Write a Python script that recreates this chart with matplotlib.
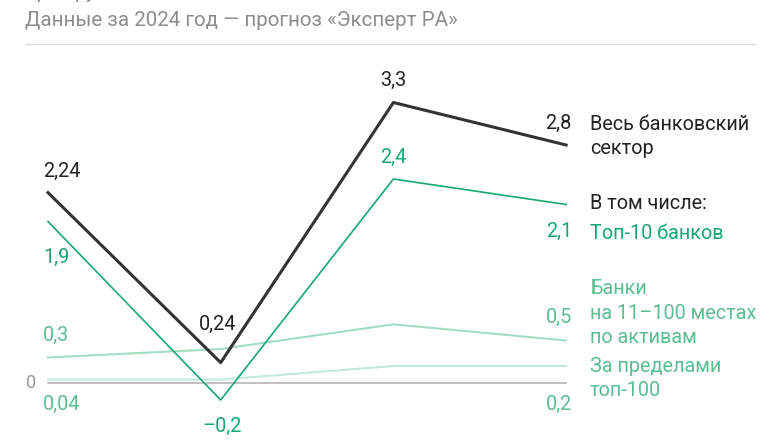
import matplotlib
matplotlib.use('Agg')
import matplotlib.pyplot as plt

plt.rcParams['font.family'] = ['Roboto', 'DejaVu Sans']

# points: 4 periods
periods = [0, 1, 2, 3]
total = [2.24, 0.24, 3.3, 2.8]
top10 = [1.9, -0.2, 2.4, 2.1]
banks_11_100 = [0.3, 0.4, 0.69, 0.5]
outside_100 = [0.04, 0.04, 0.2, 0.2]

total_labels = ['2,24', '0,24', '3,3', '2,8']
top10_labels = ['1,9', '\u20130,2', '2,4', '2,1']

c_black = '#333333'
c_green = '#17a870'
c_light1 = '#a3dec4'
c_light2 = '#c2eadb'
c_light_txt = '#5bbd90'

W, H = 780, 440
fig = plt.figure(figsize=(7.8, 4.4), dpi=100)
ax = fig.add_axes([0, 0, 1, 1])
ax.axis('off')

# pixel mapping: x0=48px, step=172.7px; zero at 383px, 85px per unit
step = 172.7
ppu = 85.0
ax.set_xlim(-48 / step, (W - 48) / step)
ax.set_ylim(-(H - 383) / ppu, 383 / ppu)

def px(x):
    return (x - 48) / step

def py(y):
    return (383 - y) / ppu

# header
fig.text(25 / W, 1 - 2 / H, 'Трлн руб.', fontsize=14, color='#888888', va='bottom')
fig.text(25 / W, 1 - 21 / H, 'Данные за 2024 год — прогноз «Эксперт РА»',
         fontsize=14.8, color='#8c8c8c', va='center')
ax.plot([px(25), px(755)], [py(44), py(44)], color='#dedede', lw=1)

# zero line
ax.plot([0, 3], [0, 0], color='#bbbbbb', lw=1.3, zorder=1)
ax.text(px(31), 0, '0', fontsize=13, color='#999999', ha='center', va='center')

ax.plot(periods, outside_100, color=c_light2, lw=1.5, zorder=2)
ax.plot(periods, banks_11_100, color=c_light1, lw=1.5, zorder=2)
ax.plot(periods, top10, color=c_green, lw=1.2, zorder=3)
ax.plot(periods, total, color=c_black, lw=2.2, zorder=4)

fs = 14.3
# left column labels
ax.text(px(43), py(171), total_labels[0], fontsize=fs, color='#222222', va='center')
ax.text(px(43), py(257), top10_labels[0], fontsize=fs, color=c_green, va='center')
ax.text(px(43), py(335), '0,3', fontsize=fs, color=c_light_txt, va='center')
ax.text(px(43), py(404), '0,04', fontsize=fs, color=c_light_txt, va='center')

# middle
ax.text(px(218), py(324), total_labels[1], fontsize=fs, color='#222222', ha='center', va='center')
ax.text(px(222), py(426), top10_labels[1], fontsize=fs, color=c_green, ha='center', va='center')
ax.text(px(393), py(80), total_labels[2], fontsize=fs, color='#222222', ha='center', va='center')
ax.text(px(393), py(157), top10_labels[2], fontsize=fs, color=c_green, ha='center', va='center')

# right values
ax.text(px(572), py(123), total_labels[3], fontsize=fs, color='#222222', ha='right', va='center')
ax.text(px(572), py(231), top10_labels[3], fontsize=fs, color=c_green, ha='right', va='center')
ax.text(px(572), py(317), '0,5', fontsize=fs, color=c_light_txt, ha='right', va='center')
ax.text(px(572), py(404), '0,2', fontsize=fs, color=c_light_txt, ha='right', va='center')

# series names
ax.text(px(590), py(124), 'Весь банковский', fontsize=fs, color='#222222', va='center')
ax.text(px(590), py(148), 'сектор', fontsize=fs, color='#222222', va='center')
ax.text(px(590), py(203), 'В том числе:', fontsize=fs, color='#222222', va='center')
ax.text(px(590), py(233), 'Топ-10 банков', fontsize=fs, color=c_green, va='center')
ax.text(px(590), py(289), 'Банки', fontsize=fs, color=c_light_txt, va='center')
ax.text(px(590), py(313), 'на 11–100 местах', fontsize=fs, color=c_light_txt, va='center')
ax.text(px(590), py(337), 'по активам', fontsize=fs, color=c_light_txt, va='center')
ax.text(px(590), py(366), 'За пределами', fontsize=fs, color=c_light_txt, va='center')
ax.text(px(590), py(390), 'топ-100', fontsize=fs, color=c_light_txt, va='center')

fig.savefig('out.png', dpi=100)
